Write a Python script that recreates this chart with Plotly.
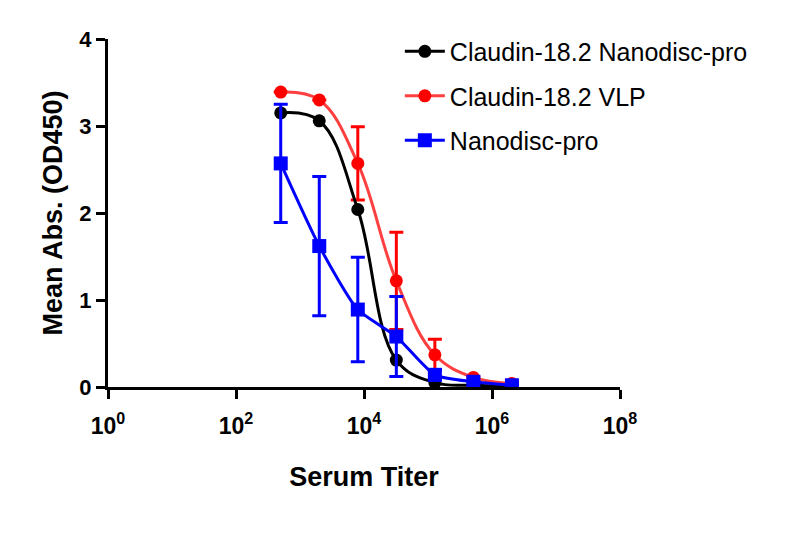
import plotly.graph_objects as go

titer = [500, 2000, 8000, 32000, 128000, 512000, 2048000]

black_vals = [3.15, 3.06, 2.04, 0.31, 0.05, 0.02, 0.01]
red_vals = [3.39, 3.30, 2.57, 1.22, 0.37, 0.11, 0.04]
red_err = [0.0, 0.0, 0.42, 0.56, 0.18, 0.0, 0.0]
blue_vals = [2.57, 1.62, 0.89, 0.58, 0.14, 0.06, 0.02]
blue_err = [0.68, 0.80, 0.60, 0.46, 0.06, 0.0, 0.0]

names = ["Claudin-18.2 Nanodisc-pro", "Claudin-18.2 VLP", "Nanodisc-pro"]

x_tickvals = [1, 1e2, 1e4, 1e6, 1e8]
x_ticktext = ["10<sup>0</sup>", "10<sup>2</sup>", "10<sup>4</sup>", "10<sup>6</sup>", "10<sup>8</sup>"]
y_tickvals = [0, 1, 2, 3, 4]

FONT = "Liberation Sans, Arial, sans-serif"

fig = go.Figure()

fig.add_trace(go.Scatter(
    x=titer, y=red_vals, name=names[1], mode="lines+markers",
    line=dict(color="#ff4040", width=3, shape="spline", smoothing=1.1),
    marker=dict(color="#ff0000", size=13, symbol="circle"),
    error_y=dict(type="data", array=red_err, visible=True, color="#ff0000", thickness=3, width=7),
    legendrank=2, legendgroup="b",
))
fig.add_trace(go.Scatter(
    x=titer, y=black_vals, name=names[0], mode="lines+markers",
    line=dict(color="black", width=3, shape="spline", smoothing=1.1),
    marker=dict(color="black", size=13, symbol="circle"),
    legendrank=1, legendgroup="a",
))
fig.add_trace(go.Scatter(
    x=titer, y=blue_vals, name=names[2], mode="lines+markers",
    line=dict(color="#0000ff", width=3, shape="spline", smoothing=0.6),
    marker=dict(color="#0000ff", size=14, symbol="square"),
    error_y=dict(type="data", array=blue_err, visible=True, color="#0000ff", thickness=3, width=7),
    legendrank=3, legendgroup="c",
))

fig.update_layout(
    width=800, height=540,
    margin=dict(l=108, r=180, t=39, b=153),
    plot_bgcolor="white", paper_bgcolor="white",
    font=dict(family=FONT, color="black"),
    xaxis=dict(
        type="log", range=[0, 8], tickvals=x_tickvals, ticktext=x_ticktext,
        showgrid=False, zeroline=False, showline=True, linecolor="black", linewidth=3,
        ticks="outside", ticklen=9, tickwidth=3, tickcolor="black",
        ticklabelstandoff=7,
        tickfont=dict(family=FONT, size=23, color="black", weight="bold"),
        title=dict(text="<b>Serum Titer</b>", font=dict(family=FONT, size=27), standoff=30),
    ),
    yaxis=dict(
        range=[0, 4], tickvals=y_tickvals,
        showgrid=False, zeroline=False, showline=True, linecolor="black", linewidth=3,
        ticks="outside", ticklen=9, tickwidth=3, tickcolor="black",
        tickfont=dict(family=FONT, size=22, color="black", weight="bold"),
        title=dict(text="<b>Mean Abs. (OD450)</b>", font=dict(family=FONT, size=27), standoff=9),
    ),
    legend=dict(
        x=0.57, y=1.03, xref="paper", yref="paper", xanchor="left", yanchor="top",
        font=dict(family=FONT, size=25, color="black"), bgcolor="rgba(0,0,0,0)",
        tracegroupgap=9, itemwidth=40, traceorder="grouped",
    ),
    showlegend=True,
)

fig.write_html("out.html")
